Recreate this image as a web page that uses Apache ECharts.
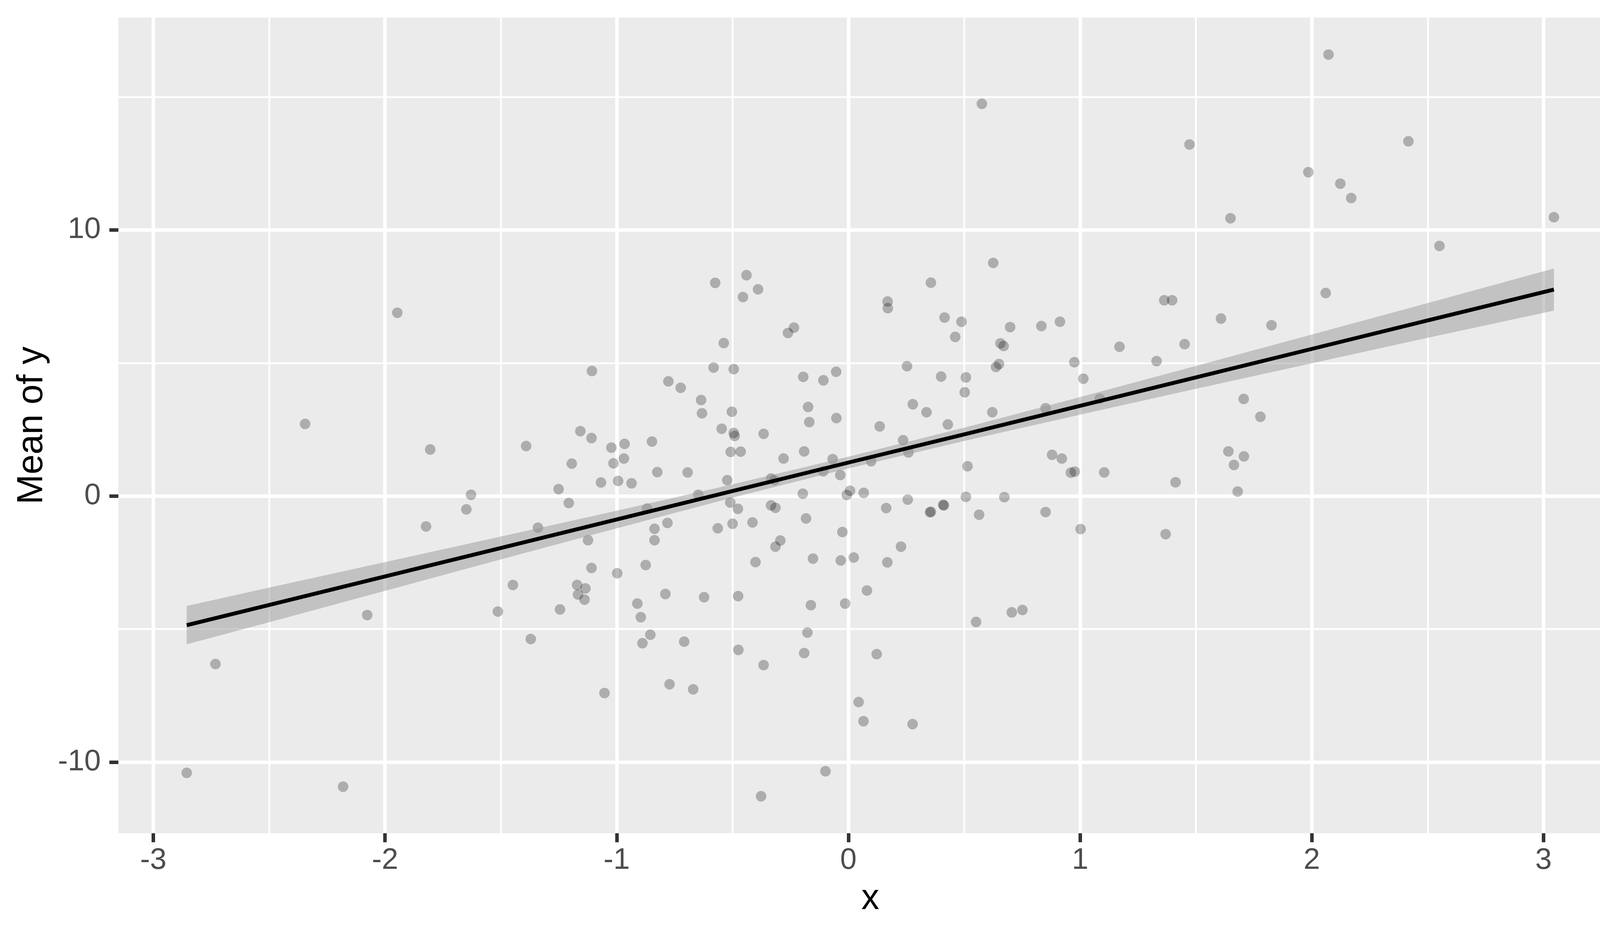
<!DOCTYPE html>
<html>
<head>
<meta charset="utf-8">
<title>Mean of y vs x</title>
<script src="https://cdn.jsdelivr.net/npm/echarts@6/dist/echarts.min.js"></script>
<style>
  html, body { margin: 0; padding: 0; background: #ffffff; }
  #chart { width: 4200px; height: 2400px; }
</style>
</head>
<body>
<div id="chart"></div>
<script>
// points (x, mean of y)
var pointX = [
  -1.947, -2.345, -1.805, -1.629, -1.649, -1.823, -2.077, -1.513, -2.732, -2.856,
  -2.181, -0.575, -0.440, -0.390, -0.455, -0.235, -0.261, -0.538, -0.582, -0.495,
  -1.107, -0.777, -0.724, -0.195, -0.108, -0.053, -0.636, -0.632, -0.503, -0.174,
  -0.052, -0.169, -1.157, -0.547, -1.391, -1.109, -1.023, -0.966, -0.848, -1.194,
  -1.014, -0.969, -1.251, -1.068, -0.994, -0.936, -0.825, -0.694, -1.207, -1.340,
  -1.124, -0.869, -0.837, -0.837, -0.781, -0.648, -1.109, -0.998, -0.875, -1.448,
  -1.171, -1.135, -1.167, -1.139, -1.245, -0.790, -0.911, -0.896, -0.623, -0.476,
  -0.855, -0.889, -0.709, -0.475, -1.371, -0.366, -0.772, -0.670, -1.053, -0.099,
  -0.377, -0.495, -0.491, -0.366, -0.508, -0.465, -0.280, -0.191, -0.523, -0.510,
  -0.477, -0.500, -0.564, -0.414, -0.334, -0.319, -0.334, -0.315, -0.197, -0.183,
  -0.109, -0.068, -0.035, 0.007, -0.007, 0.066, -0.294, -0.315, -0.401, -0.153,
  -0.026, -0.033, 0.023, 0.080, -0.162, -0.014, -0.177, -0.191, 0.044, 0.065,
  0.236, 0.259, 0.098, 0.514, 0.879, 0.921, 0.960, 0.977, 1.104, 1.640,
  1.664, 1.412, 1.680, 0.163, 0.256, 0.352, 0.356, 0.412, 0.409, 0.507,
  0.564, 0.673, 0.851, 1.002, 1.369, 0.227, 0.168, 0.551, 0.705, 0.751,
  0.122, 0.277, 0.576, 1.472, 1.649, 0.625, 0.356, 0.169, 0.170, 0.415,
  0.488, 0.461, 0.698, 0.833, 0.913, 1.363, 1.397, 1.608, 0.656, 0.670,
  1.170, 1.451, 0.253, 0.650, 0.637, 0.975, 1.330, 0.400, 0.507, 1.014,
  0.502, 0.278, 0.337, 0.621, 0.135, 0.429, 0.851, 1.085, 2.072, 2.417,
  1.985, 2.123, 2.170, 3.045, 2.551, 2.060, 1.826, 1.706, 1.778, 1.707
];
var pointY = [
  6.89, 2.71, 1.75, 0.05, -0.50, -1.14, -4.47, -4.34, -6.31, -10.40,
  -10.92, 8.01, 8.30, 7.77, 7.48, 6.33, 6.13, 5.75, 4.83, 4.77,
  4.70, 4.31, 4.07, 4.48, 4.35, 4.67, 3.61, 3.11, 3.17, 3.35,
  2.93, 2.78, 2.44, 2.53, 1.88, 2.18, 1.82, 1.96, 2.05, 1.22,
  1.23, 1.41, 0.26, 0.51, 0.57, 0.48, 0.90, 0.89, -0.26, -1.19,
  -1.66, -0.47, -1.23, -1.66, -1.01, 0.05, -2.70, -2.90, -2.59, -3.34,
  -3.34, -3.47, -3.70, -3.89, -4.26, -3.68, -4.04, -4.55, -3.80, -3.76,
  -5.21, -5.53, -5.47, -5.78, -5.37, -6.35, -7.07, -7.26, -7.40, -10.34,
  -11.28, 2.37, 2.26, 2.34, 1.66, 1.67, 1.41, 1.68, 0.60, -0.24,
  -0.48, -1.04, -1.21, -0.99, 0.66, 0.60, -0.35, -0.44, 0.09, -0.84,
  0.93, 1.39, 0.79, 0.20, 0.04, 0.12, -1.67, -1.90, -2.48, -2.35,
  -1.35, -2.42, -2.31, -3.55, -4.10, -4.04, -5.13, -5.90, -7.74, -8.46,
  2.10, 1.64, 1.31, 1.12, 1.55, 1.41, 0.88, 0.92, 0.89, 1.68,
  1.17, 0.52, 0.17, -0.45, -0.13, -0.61, -0.59, -0.35, -0.33, -0.03,
  -0.70, -0.04, -0.60, -1.24, -1.43, -1.90, -2.49, -4.73, -4.37, -4.28,
  -5.94, -8.57, 14.74, 13.21, 10.44, 8.76, 8.02, 7.31, 7.06, 6.71,
  6.55, 5.98, 6.35, 6.39, 6.55, 7.36, 7.36, 6.67, 5.74, 5.64,
  5.61, 5.71, 4.88, 4.96, 4.85, 5.03, 5.07, 4.49, 4.46, 4.41,
  3.90, 3.45, 3.15, 3.15, 2.62, 2.69, 3.30, 3.66, 16.59, 13.33,
  12.17, 11.74, 11.20, 10.48, 9.40, 7.63, 6.42, 3.65, 2.98, 1.49
];

// linear fit and its confidence band
var smoothX   = [-2.856, -2.5, -2, -1.5, -1, -0.5, 0, 0.5, 1, 1.5, 2, 2.5, 3.045];
var smoothFit = [-4.85, -4.09, -3.02, -1.95, -0.88, 0.19, 1.26, 2.32, 3.39, 4.46, 5.53, 6.60, 7.76];
var smoothLo  = [-5.57, -4.74, -3.56, -2.38, -1.21, -0.06, 1.04, 2.07, 3.06, 4.03, 4.99, 5.95, 6.97];
var smoothHi  = [-4.13, -3.44, -2.48, -1.52, -0.55, 0.44, 1.48, 2.57, 3.72, 4.89, 6.07, 7.25, 8.55];

// axis limits and tick values
var xLimits = [-3.151, 3.340];
var yLimits = [-12.67, 17.98];
var xMajor = [-3, -2, -1, 0, 1, 2, 3];
var xMinor = [-2.5, -1.5, -0.5, 0.5, 1.5, 2.5];
var yMajor = [-10, 0, 10];
var yMinor = [-5, 5, 15];

var points = pointX.map(function (x, i) { return [x, pointY[i]]; });
var fitLine = smoothX.map(function (x, i) { return [x, smoothFit[i]]; });

var font = 'Liberation Sans';

option = {
    animation: false,
    backgroundColor: '#ffffff',
    textStyle: { fontFamily: font },
    grid: {
        left: 303,
        right: 47,
        top: 45,
        bottom: 268,
        show: true,
        backgroundColor: '#EBEBEB',
        borderWidth: 0
    },
    xAxis: [{
        type: 'value',
        position: 'bottom',
        min: xLimits[0],
        max: xLimits[1],
        name: 'x',
        nameLocation: 'middle',
        nameGap: 123,
        nameTextStyle: { fontSize: 92, color: '#000000', fontFamily: font },
        axisLine: { show: false, onZero: false },
        axisTick: {
            show: true,
            length: 23,
            customValues: xMajor,
            lineStyle: { color: '#333333', width: 9 }
        },
        axisLabel: {
            customValues: xMajor,
            fontSize: 76,
            color: '#4D4D4D',
            margin: 32,
            fontFamily: font
        },
        splitLine: { show: true, lineStyle: { color: '#ffffff', width: 9 } }
    }, {
        type: 'value',
        position: 'top',
        min: xLimits[0],
        max: xLimits[1],
        axisLine: { show: false, onZero: false },
        axisTick: { show: false, customValues: xMinor },
        axisLabel: { show: false, customValues: xMinor },
        splitLine: { show: true, lineStyle: { color: '#ffffff', width: 4.6 } }
    }],
    yAxis: [{
        type: 'value',
        position: 'left',
        min: yLimits[0],
        max: yLimits[1],
        name: 'Mean of y',
        nameLocation: 'middle',
        nameGap: 174,
        nameTextStyle: { fontSize: 92, color: '#000000', fontFamily: font },
        axisLine: { show: false, onZero: false },
        axisTick: {
            show: true,
            length: 23,
            customValues: yMajor,
            lineStyle: { color: '#333333', width: 9 }
        },
        axisLabel: {
            customValues: yMajor,
            fontSize: 76,
            color: '#4D4D4D',
            margin: 45,
            fontFamily: font
        },
        splitLine: { show: true, lineStyle: { color: '#ffffff', width: 9 } }
    }, {
        type: 'value',
        position: 'right',
        min: yLimits[0],
        max: yLimits[1],
        axisLine: { show: false, onZero: false },
        axisTick: { show: false, customValues: yMinor },
        axisLabel: { show: false, customValues: yMinor },
        splitLine: { show: true, lineStyle: { color: '#ffffff', width: 4.6 } }
    }],
    series: [{
        type: 'scatter',
        xAxisIndex: 0,
        yAxisIndex: 0,
        symbol: 'circle',
        symbolSize: 27,
        itemStyle: { color: 'rgba(0,0,0,0.33)', borderWidth: 0 },
        data: points,
        z: 2
    }, {
        // confidence band as one polygon through the axis scales
        type: 'custom',
        xAxisIndex: 0,
        yAxisIndex: 0,
        clip: true,
        silent: true,
        data: [[smoothX[0], smoothFit[0]]],
        renderItem: function (params, api) {
            var pts = [];
            for (var i = 0; i < smoothX.length; i++) {
                pts.push(api.coord([smoothX[i], smoothHi[i]]));
            }
            for (var j = smoothX.length - 1; j >= 0; j--) {
                pts.push(api.coord([smoothX[j], smoothLo[j]]));
            }
            return {
                type: 'polygon',
                shape: { points: pts },
                style: { fill: 'rgba(153,153,153,0.5)' }
            };
        },
        z: 3
    }, {
        type: 'line',
        xAxisIndex: 0,
        yAxisIndex: 0,
        data: fitLine,
        showSymbol: false,
        symbol: 'none',
        lineStyle: { color: '#000000', width: 10 },
        z: 4
    }]
};

echarts.init(document.getElementById('chart')).setOption(option);
</script>
</body>
</html>
